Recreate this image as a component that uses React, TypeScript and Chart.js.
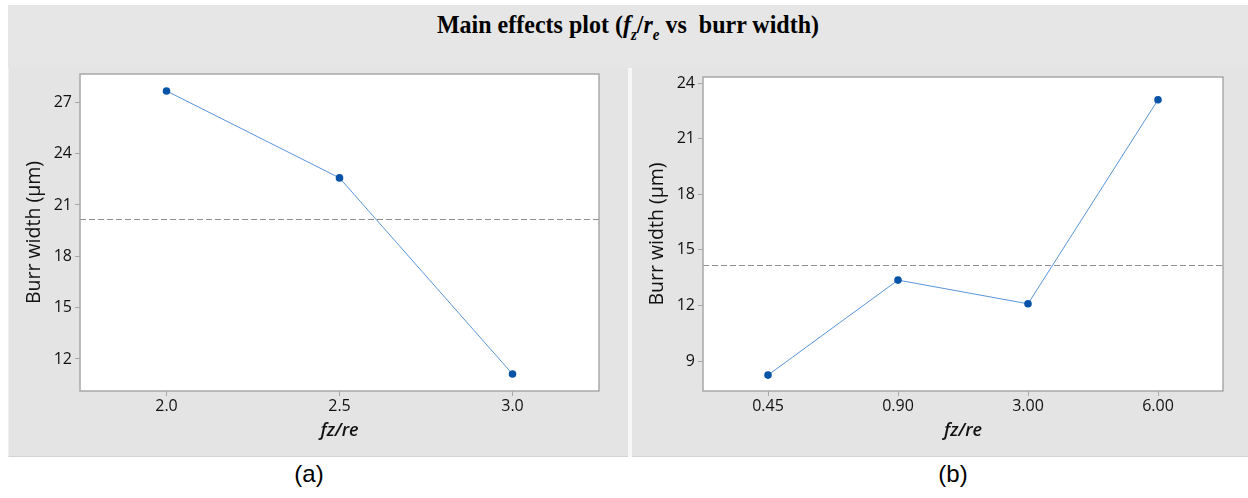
import React, { useEffect, useRef } from "react";
import { Chart, registerables } from "chart.js";

Chart.register(...registerables);

// ---------- data ----------
const CATEGORIES_A = ["2.0", "2.5", "3.0"];
const VALUES_A = [27.66, 22.58, 11.12];
const MEAN_A = 20.15;
const Y_TICKS_A = [12, 15, 18, 21, 24, 27];
const Y_MIN_A = 10.13;
const Y_MAX_A = 28.65;

const CATEGORIES_B = ["0.45", "0.90", "3.00", "6.00"];
const VALUES_B = [8.24, 13.37, 12.09, 23.11];
const MEAN_B = 14.18;
const Y_TICKS_B = [9, 12, 15, 18, 21, 24];
const Y_MIN_B = 7.38;
const Y_MAX_B = 24.34;

const X_TITLE = "fz/re";
const Y_TITLE = "Burr width (µm)";

// ---------- styles ----------
const TEXT = "#111111";
const FRAME = "#a8a8a8";
const LINE_BLUE = "#5a96d8";
const POINT_BLUE = "#0653a8";
const FONT = '"Open Sans", "Noto Sans", sans-serif';

const framePlugin = {
  id: "plotFrame",
  beforeDraw(chart: any) {
    const { ctx, chartArea } = chart;
    const { left, top, right, bottom } = chartArea;
    ctx.save();
    ctx.fillStyle = "#ffffff";
    ctx.fillRect(left, top, right - left, bottom - top);
    ctx.restore();
  },
  beforeDatasetsDraw(chart: any, _args: any, opts: any) {
    const { ctx, chartArea } = chart;
    const { left, right } = chartArea;
    ctx.save();
    const y = chart.scales.y.getPixelForValue(opts.mean);
    ctx.strokeStyle = "#8f8f8f";
    ctx.lineWidth = 1;
    ctx.setLineDash([6, 3]);
    ctx.beginPath();
    ctx.moveTo(left, Math.round(y) + 0.5);
    ctx.lineTo(right, Math.round(y) + 0.5);
    ctx.stroke();
    ctx.restore();
  },
  afterDraw(chart: any) {
    const { ctx, chartArea } = chart;
    const { left, top, right, bottom } = chartArea;
    ctx.save();
    ctx.strokeStyle = FRAME;
    ctx.lineWidth = 1.5;
    ctx.strokeRect(left, top, right - left, bottom - top);
    ctx.restore();
  },
};

function makeConfig(
  labels: string[],
  values: number[],
  mean: number,
  yTicks: number[],
  yMin: number,
  yMax: number,
  pad: { top: number; right: number },
  yAxisWidth: number,
  yTitlePad: number
): any {
  return {
    type: "line",
    data: {
      labels,
      datasets: [
        {
          data: values,
          borderColor: LINE_BLUE,
          borderWidth: 1,
          pointBackgroundColor: POINT_BLUE,
          pointBorderColor: POINT_BLUE,
          pointRadius: 3.8,
          pointBorderWidth: 0,
          tension: 0,
        },
      ],
    },
    plugins: [framePlugin],
    options: {
      responsive: false,
      animation: false,
      devicePixelRatio: 1,
      layout: { padding: { left: 0, top: pad.top, right: pad.right, bottom: 0 } },
      plugins: {
        legend: { display: false },
        tooltip: { enabled: false },
        plotFrame: { mean },
      },
      scales: {
        x: {
          type: "category",
          offset: true,
          grid: {
            display: true,
            drawOnChartArea: false,
            drawTicks: true,
            tickLength: 5,
            tickColor: FRAME,
            offset: false,
          },
          border: { display: false },
          ticks: {
            color: TEXT,
            font: { family: FONT, size: 16 },
            padding: 1,
            maxRotation: 0,
            autoSkip: false,
          },
          title: {
            display: true,
            text: X_TITLE,
            color: TEXT,
            font: { family: FONT, size: 18, style: "italic", weight: "600" },
            padding: { top: 0, bottom: 15 },
          },
          afterFit(s: any) {
            s.height = 66;
            s.paddingLeft = 0;
            s.paddingRight = 0;
          },
        },
        y: {
          type: "linear",
          min: yMin,
          max: yMax,
          afterBuildTicks(s: any) {
            s.ticks = yTicks.map((v) => ({ value: v }));
          },
          grid: {
            display: true,
            drawOnChartArea: false,
            drawTicks: true,
            tickLength: 5,
            tickColor: FRAME,
          },
          border: { display: false },
          ticks: {
            color: TEXT,
            font: { family: FONT, size: 16 },
            padding: 3,
          },
          title: {
            display: true,
            text: Y_TITLE,
            color: TEXT,
            font: { family: FONT, size: 19.5 },
            padding: { top: yTitlePad, bottom: 0 },
          },
          afterFit(s: any) {
            s.width = yAxisWidth;
            s.paddingTop = 0;
            s.paddingBottom = 0;
          },
        },
      },
    },
  };
}

function Panel(props: { cfg: any; left: number; top: number; width: number; height: number }) {
  const ref = useRef<HTMLCanvasElement>(null);
  useEffect(() => {
    if (!ref.current) return;
    const chart = new Chart(ref.current, props.cfg);
    return () => chart.destroy();
  }, []);
  return (
    <canvas
      ref={ref}
      width={props.width}
      height={props.height}
      style={{
        position: "absolute",
        left: props.left,
        top: props.top,
        width: props.width,
        height: props.height,
      }}
    />
  );
}

export default function App() {
  const cfgA = makeConfig(
    CATEGORIES_A,
    VALUES_A,
    MEAN_A,
    Y_TICKS_A,
    Y_MIN_A,
    Y_MAX_A,
    { top: 6, right: 29 },
    72,
    15
  );
  const cfgB = makeConfig(
    CATEGORIES_B,
    VALUES_B,
    MEAN_B,
    Y_TICKS_B,
    Y_MIN_B,
    Y_MAX_B,
    { top: 9, right: 25 },
    71,
    14
  );
  const labelStyle: React.CSSProperties = {
    position: "absolute",
    top: 460,
    width: 80,
    lineHeight: "28px",
    textAlign: "center",
    fontFamily: '"Liberation Sans", Arial, sans-serif',
    fontSize: 24,
    color: "#000",
  };
  return (
    <div style={{ position: "absolute", left: 0, top: 0, width: 1248, height: 498, background: "#ffffff" }}>
      <div style={{ position: "absolute", left: 8, top: 5, width: 1240, height: 452, background: "#e6e6e6" }} />
      <div
        style={{
          position: "absolute",
          left: 8,
          top: 68,
          width: 619,
          height: 388,
          background: "#e4e4e4",
          borderLeft: "1px solid #f0f0f0",
          borderBottom: "1px solid #d2d2d2",
        }}
      />
      <div style={{ position: "absolute", left: 628, top: 68, width: 4, height: 389, background: "#f7f7f7" }} />
      <div
        style={{
          position: "absolute",
          left: 632,
          top: 68,
          width: 616,
          height: 388,
          background: "#e4e4e4",
          borderBottom: "1px solid #d2d2d2",
        }}
      />
      <div
        style={{
          position: "absolute",
          left: 8,
          top: 5,
          width: 1240,
          height: 45,
          display: "flex",
          alignItems: "center",
          justifyContent: "center",
          fontFamily: '"Liberation Serif", "Times New Roman", serif',
          fontWeight: "bold",
          fontSize: 24,
          color: "#000",
          whiteSpace: "pre",
        }}
      >
        <span style={{ display: "inline-block", transform: "scaleY(1.08)" }}>
          Main effects plot (<i>f</i>
          <sub style={{ fontSize: 15 }}>
            <i>z</i>
          </sub>
          /<i>r</i>
          <sub style={{ fontSize: 15 }}>
            <i>e</i>
          </sub>
          {" vs  burr width)"}
        </span>
      </div>
      <Panel cfg={cfgA} left={8} top={68} width={620} height={389} />
      <Panel cfg={cfgB} left={632} top={68} width={616} height={389} />
      <div style={{ ...labelStyle, left: 269 }}>(a)</div>
      <div style={{ ...labelStyle, left: 913 }}>(b)</div>
    </div>
  );
}
